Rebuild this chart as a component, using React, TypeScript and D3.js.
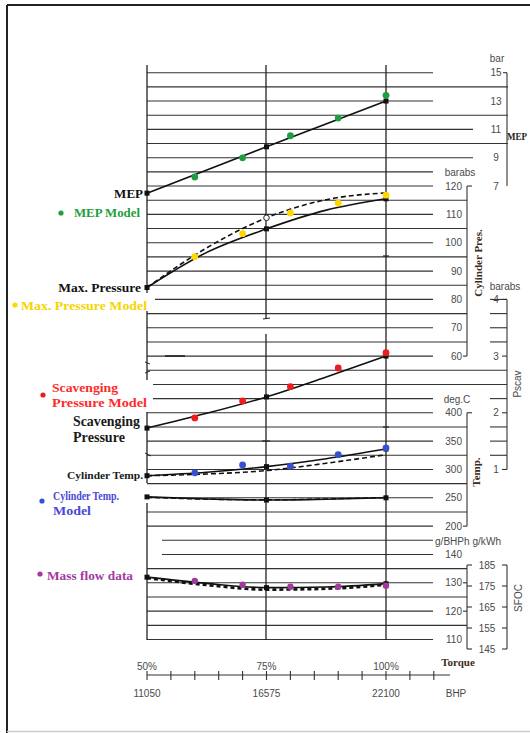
import React from "react";
import * as d3 from "d3";

// ---------- data ----------
const loadPct = [50, 62.5, 75, 87.5, 100];
const mepPct = [50, 75, 100];
const modelPct = [60, 70, 80, 90, 100];

const mepMeasured = [6.5, 9.77, 13.0];
const mepModel = [7.64, 8.99, 10.55, 11.8, 13.4];

const maxPressSolid = [84.2, 96.6, 104.9, 111.5, 115.5];
const maxPressDashed = [84.2, 98.2, 108.8, 115.2, 117.6];
const maxPressModel = [95.1, 103.2, 110.5, 114.0, 116.8];

const scavPress = [1.73, 1.99, 2.28, 2.63, 3.0];
const scavModel = [1.91, 2.21, 2.46, 2.79, 3.06];

const cylTempSolid = [289, 295, 305, 319, 336];
const cylTempDashed = [289, 292, 298, 311, 326];
const cylTempModel = [294, 308, 306, 326, 338];
const exhTempSolid = [251.6, 248, 246, 247.5, 250];
const exhTempDashed = [251, 247.5, 246.5, 248, 250.5];

const sfocSolid = [132.0, 129.8, 128.3, 128.5, 129.7];
const sfocDashed = [131.7, 129.2, 127.6, 127.9, 129.3];
const massFlowData = [130.7, 129.3, 128.6, 128.6, 129.0];

const mepTicks = [15, 13, 11, 9, 7];
const cpTicks = [120, 110, 100, 90, 80, 70, 60];
const pscTicks = [4, 3, 2, 1];
const tempTicks = [400, 350, 300, 250, 200];
const sfocTicks = [140, 130, 120, 110];
const kwhTicks = [185, 175, 165, 155, 145];
const torqueLabels = ["50%", "75%", "100%"];
const torquePct = [50, 75, 100];
const bhpLabels = ["11050", "16575", "22100"];
const bhpTickPct = [50, 55, 60, 65, 70, 75, 80, 85, 90, 95, 100, 105, 110];

// grid line extents: [x1, x2, extraRightSegment]
const gridSpec: [number, number, boolean][] = [
  [147, 433, false], [147, 508, false], [147, 433, false], [147, 508, false],
  [147, 473, false], [147, 508, false], [147, 473, false], [147, 433, false],
  [147, 433, false], [147, 467, false], [147, 433, false], [147, 467, false],
  [147, 433, false], [147, 467, false], [147, 433, false], [147, 467, false],
  [155, 433, true], [147, 467, true], [147, 433, true], [147, 467, true],
  [147, 433, false], [147, 507, false], [153, 507, false], [153, 433, true],
  [147, 433, false], [147, 467, true], [147, 433, true], [147, 467, true],
  [147, 433, false], [147, 467, false], [147, 433, false], [147, 467, false],
  [147, 433, false], [162, 433, false], [162, 433, false], [147, 467, false],
  [147, 433, false], [147, 467, false], [147, 433, false], [147, 467, false],
  [147, 433, false],
];

// ---------- scales ----------
const xS = d3.scaleLinear().domain([50, 100]).range([147, 386]);
const gridY = d3.scaleLinear().domain([0, 40]).range([72.7, 639.5]);
const mepY = d3.scaleLinear().domain([7, 15]).range([gridY(8), gridY(0)]);
const cpY = d3.scaleLinear().domain([60, 120]).range([gridY(20), gridY(8)]);
const pscY = d3.scaleLinear().domain([1, 4]).range([gridY(28), gridY(16)]);
const tY = d3.scaleLinear().domain([200, 400]).range([gridY(32), gridY(24)]);
const sfY = d3.scaleLinear().domain([110, 140]).range([gridY(40), gridY(34)]);
const kwhY = d3.scaleLinear().domain([145, 185]).range([649, 565]);

const SANS = "'Liberation Sans', Arial, sans-serif";
const SERIF = "'Liberation Serif', 'Times New Roman', serif";
const TICKC = "#4a4a4a";

function path(xs: number[], ys: number[], y: d3.ScaleLinear<number, number>) {
  const ln = d3
    .line<number>()
    .x((_, i) => xS(xs[i]))
    .y((v) => y(v))
    .curve(d3.curveMonotoneX);
  return ln(ys) || "";
}

function Dots({ xs, ys, y, color, r = 3.4 }: any) {
  return (
    <g>
      {ys.map((v: number, i: number) => (
        <circle key={i} cx={xS(xs[i])} cy={y(v)} r={r} fill={color} />
      ))}
    </g>
  );
}

function Squares({ xs, ys, y }: any) {
  return (
    <g>
      {ys.map((v: number, i: number) =>
        [50, 75, 100].includes(xs[i]) ? (
          <rect key={i} x={xS(xs[i]) - 2.5} y={y(v) - 2.5} width={5} height={5} fill="#111" />
        ) : null
      )}
    </g>
  );
}

export default function App() {
  const vSegs: [number, number, number][] = [
    [147, 65, 293], [147, 311, 380], [147, 412, 483], [147, 503, 640],
    [266, 65, 319], [266, 334, 640],
    [386, 65, 640],
  ];
  return (
    <svg
      width={530}
      height={733}
      style={{ position: "absolute", left: 0, top: 0, display: "block", background: "#fff" }}
    >
      <rect x={0} y={0} width={530} height={733} fill="#fff" />
      {/* frame */}
      <line x1={7} y1={5} x2={530} y2={5} stroke="#222" strokeWidth={2} />
      <line x1={7} y1={5} x2={7} y2={733} stroke="#222" strokeWidth={2} />
      <line x1={7} y1={731.5} x2={530} y2={731.5} stroke="#ccc" strokeWidth={1.5} />

      {/* horizontal grid */}
      {gridSpec.map(([a, b, extra], k) => (
        <g key={k}>
          <line x1={a} x2={b} y1={gridY(k)} y2={gridY(k)} stroke="#333" strokeWidth={1.1} />
          {extra && <line x1={490} x2={507} y1={gridY(k)} y2={gridY(k)} stroke="#333" strokeWidth={1.1} />}
        </g>
      ))}
      {/* vertical grid */}
      {vSegs.map(([x, a, b], i) => (
        <line key={i} x1={x} x2={x} y1={a} y2={b} stroke="#222" strokeWidth={1.3} />
      ))}
      {/* small stray marks */}
      <line x1={145} x2={150} y1={362} y2={364} stroke="#222" strokeWidth={1} />
      <line x1={145} x2={150} y1={373} y2={371} stroke="#222" strokeWidth={1} />
      <line x1={145} x2={151} y1={453} y2={456} stroke="#222" strokeWidth={1} />
      <line x1={263} x2={270} y1={319} y2={318} stroke="#222" strokeWidth={1.2} />
      <line x1={262} x2={270} y1={441} y2={441} stroke="#222" strokeWidth={1.2} />
      <line x1={383} x2={389} y1={256} y2={256} stroke="#222" strokeWidth={1.2} />
      <line x1={383} x2={389} y1={427} y2={427} stroke="#222" strokeWidth={1.2} />
      <line x1={165} x2={185} y1={356} y2={356} stroke="#222" strokeWidth={1.6} />

      {/* MEP axis */}
      <line x1={507} x2={507} y1={mepY(15)} y2={mepY(7)} stroke="#333" strokeWidth={1.1} />
      <line x1={503} x2={507} y1={mepY(15)} y2={mepY(15)} stroke="#333" strokeWidth={1.1} />
      <text x={497} y={58} fontFamily={SANS} fontSize={10} fill={TICKC} textAnchor="middle" dominantBaseline="central">bar</text>
      {mepTicks.map((t) => (
        <text key={t} x={496} y={mepY(t)} fontFamily={SANS} fontSize={10} fill={TICKC} textAnchor="middle" dominantBaseline="central">{t}</text>
      ))}
      <text x={507} y={136} fontFamily={SERIF} fontSize={10.5} fontWeight="bold" fill="#222" dominantBaseline="central" textLength={20} lengthAdjust="spacingAndGlyphs">MEP</text>

      {/* Cylinder pressure axis */}
      <line x1={467} x2={467} y1={cpY(120)} y2={cpY(60)} stroke="#333" strokeWidth={1.1} />
      <line x1={467} x2={472} y1={cpY(120)} y2={cpY(120)} stroke="#333" strokeWidth={1.1} />
      <line x1={463} x2={467} y1={cpY(60)} y2={cpY(60)} stroke="#333" strokeWidth={1.1} />
      <text x={460} y={172} fontFamily={SANS} fontSize={10} fill={TICKC} textAnchor="middle" dominantBaseline="central">barabs</text>
      {cpTicks.map((t) => (
        <text key={t} x={462} y={cpY(t)} fontFamily={SANS} fontSize={10} fill={TICKC} textAnchor="end" dominantBaseline="central">{t}</text>
      ))}
      <text transform="translate(478,263) rotate(-90)" fontFamily={SERIF} fontSize={11} fontWeight="bold" fill="#3a2c20" textAnchor="middle" dominantBaseline="central">Cylinder Pres.</text>

      {/* Pscav axis */}
      <line x1={507} x2={507} y1={pscY(4)} y2={pscY(1)} stroke="#333" strokeWidth={1.1} />
      {pscTicks.map((t) => (
        <g key={t}>
          <line x1={502} x2={507} y1={pscY(t)} y2={pscY(t)} stroke="#333" strokeWidth={1.1} />
          <text x={496} y={pscY(t)} fontFamily={SANS} fontSize={10} fill={TICKC} textAnchor="middle" dominantBaseline="central">{t}</text>
        </g>
      ))}
      <text x={505} y={286} fontFamily={SANS} fontSize={10} fill={TICKC} textAnchor="middle" dominantBaseline="central">barabs</text>
      <text transform="translate(517,384) rotate(-90)" fontFamily={SANS} fontSize={10} fill={TICKC} textAnchor="middle" dominantBaseline="central">Pscav</text>

      {/* Temp axis */}
      <line x1={467} x2={467} y1={tY(400)} y2={tY(200)} stroke="#333" strokeWidth={1.1} />
      <line x1={467} x2={472} y1={tY(400)} y2={tY(400)} stroke="#333" strokeWidth={1.1} />
      <line x1={463} x2={467} y1={tY(200)} y2={tY(200)} stroke="#333" strokeWidth={1.1} />
      <text x={457} y={399} fontFamily={SANS} fontSize={10} fill={TICKC} textAnchor="middle" dominantBaseline="central">deg.C</text>
      {tempTicks.map((t) => (
        <text key={t} x={462} y={tY(t)} fontFamily={SANS} fontSize={10} fill={TICKC} textAnchor="end" dominantBaseline="central">{t}</text>
      ))}
      <text transform="translate(476,472) rotate(-90)" fontFamily={SERIF} fontSize={11} fontWeight="bold" fill="#3a2c20" textAnchor="middle" dominantBaseline="central">Temp.</text>

      {/* SFOC axes */}
      <text x={435} y={541} fontFamily={SANS} fontSize={10} fill={TICKC} textLength={66} lengthAdjust="spacingAndGlyphs" dominantBaseline="central">g/BHPh g/kWh</text>
      {sfocTicks.map((t) => (
        <text key={t} x={462} y={sfY(t)} fontFamily={SANS} fontSize={10} fill={TICKC} textAnchor="end" dominantBaseline="central">{t}</text>
      ))}
      <line x1={467} x2={467} y1={kwhY(185)} y2={kwhY(145)} stroke="#333" strokeWidth={1.1} />
      <line x1={507} x2={507} y1={kwhY(185)} y2={kwhY(145)} stroke="#333" strokeWidth={1.1} />
      {[130, 120].map((t) => (
        <line key={t} x1={463} x2={467} y1={sfY(t)} y2={sfY(t)} stroke="#333" strokeWidth={1.1} />
      ))}
      {kwhTicks.map((t) => (
        <g key={t}>
          <line x1={467} x2={472} y1={kwhY(t)} y2={kwhY(t)} stroke="#333" strokeWidth={1.1} />
          <line x1={502} x2={507} y1={kwhY(t)} y2={kwhY(t)} stroke="#333" strokeWidth={1.1} />
          <text x={487} y={kwhY(t)} fontFamily={SANS} fontSize={10} fill={TICKC} textAnchor="middle" dominantBaseline="central">{t}</text>
        </g>
      ))}
      <text transform="translate(518,598) rotate(-90)" fontFamily={SANS} fontSize={10} fill={TICKC} textAnchor="middle" dominantBaseline="central">SFOC</text>

      {/* bottom axis */}
      <text x={458} y={662} fontFamily={SERIF} fontSize={11} fontWeight="bold" fill="#3a2c20" textAnchor="middle" dominantBaseline="central">Torque</text>
      {torquePct.map((p, i) => (
        <text key={p} x={xS(p)} y={666} fontFamily={SANS} fontSize={10} fill={TICKC} textAnchor="middle" dominantBaseline="central">{torqueLabels[i]}</text>
      ))}
      <line x1={147} x2={450} y1={675} y2={675} stroke="#333" strokeWidth={1.1} />
      {bhpTickPct.map((p) => (
        <line key={p} x1={xS(p)} x2={xS(p)} y1={671} y2={680} stroke="#333" strokeWidth={1.1} />
      ))}
      {torquePct.map((p, i) => (
        <text key={p} x={xS(p)} y={693} fontFamily={SANS} fontSize={10} fill={TICKC} textAnchor="middle" dominantBaseline="central">{bhpLabels[i]}</text>
      ))}
      <text x={456} y={693} fontFamily={SANS} fontSize={10} fill={TICKC} textAnchor="middle" dominantBaseline="central">BHP</text>

      {/* data lines */}
      <g fill="none" stroke="#111">
        <path d={path(mepPct, mepMeasured, mepY)} strokeWidth={1.6} />
        <path d={path(loadPct, maxPressSolid, cpY)} strokeWidth={1.6} />
        <path d={path(loadPct, maxPressDashed, cpY)} strokeWidth={1.6} strokeDasharray="5,3" />
        <path d={path(loadPct, scavPress, pscY)} strokeWidth={1.6} />
        <path d={path(loadPct, cylTempSolid, tY)} strokeWidth={1.6} />
        <path d={path(loadPct, cylTempDashed, tY)} strokeWidth={1.6} strokeDasharray="5,3" />
        <path d={path(loadPct, exhTempSolid, tY)} strokeWidth={1.6} />
        <path d={path(loadPct, exhTempDashed, tY)} strokeWidth={1.4} strokeDasharray="5,3" />
        <path d={path(loadPct, sfocSolid, sfY)} strokeWidth={1.6} />
        <path d={path(loadPct, sfocDashed, sfY)} strokeWidth={2.6} strokeDasharray="4,3" />
      </g>
      <Squares xs={mepPct} ys={mepMeasured} y={mepY} />
      <Squares xs={loadPct} ys={maxPressSolid} y={cpY} />
      <Squares xs={loadPct} ys={scavPress} y={pscY} />
      <Squares xs={loadPct} ys={cylTempSolid} y={tY} />
      <Squares xs={loadPct} ys={exhTempSolid} y={tY} />
      <Squares xs={loadPct} ys={sfocSolid} y={sfY} />
      <circle cx={xS(75)} cy={cpY(maxPressDashed[2])} r={2.8} fill="#fff" stroke="#222" strokeWidth={1} />

      <Dots xs={modelPct} ys={mepModel} y={mepY} color="#1e9e3e" />
      <Dots xs={modelPct} ys={maxPressModel} y={cpY} color="#ffd800" />
      <Dots xs={modelPct} ys={scavModel} y={pscY} color="#ee1c1c" />
      <Dots xs={modelPct} ys={cylTempModel} y={tY} color="#3550d0" />
      <Dots xs={modelPct} ys={massFlowData} y={sfY} color="#a23a9e" r={3.2} />

      {/* left labels */}
      <text x={143} y={193} fontFamily={SERIF} fontSize={13} fontWeight="bold" fill="#111" textAnchor="end" dominantBaseline="central">MEP</text>
      <circle cx={61} cy={213} r={2.6} fill="#1e9e3e" />
      <text x={74} y={213} fontFamily={SERIF} fontSize={12.5} fontWeight="bold" fill="#1e9e3e" dominantBaseline="central" textLength={66} lengthAdjust="spacingAndGlyphs">MEP Model</text>
      <text x={141} y={287} fontFamily={SERIF} fontSize={13.5} fontWeight="bold" fill="#111" textAnchor="end" dominantBaseline="central">Max. Pressure</text>
      <circle cx={15} cy={305} r={2.6} fill="#ffd800" />
      <text x={21} y={305} fontFamily={SERIF} fontSize={13.5} fontWeight="bold" fill="#f5d500" dominantBaseline="central" textLength={126} lengthAdjust="spacingAndGlyphs">Max. Pressure Model</text>
      <circle cx={43} cy={395} r={2.6} fill="#ee1c1c" />
      <text x={52} y={387} fontFamily={SERIF} fontSize={13.5} fontWeight="bold" fill="#ff2a2a" dominantBaseline="central" textLength={66} lengthAdjust="spacingAndGlyphs">Scavenging</text>
      <text x={52} y={402} fontFamily={SERIF} fontSize={13.5} fontWeight="bold" fill="#ff2a2a" dominantBaseline="central" textLength={95} lengthAdjust="spacingAndGlyphs">Pressure Model</text>
      <text x={73} y={421} fontFamily={SERIF} fontSize={14} fontWeight="bold" fill="#1a1a1a" dominantBaseline="central" textLength={67} lengthAdjust="spacingAndGlyphs">Scavenging</text>
      <text x={73} y={437} fontFamily={SERIF} fontSize={14} fontWeight="bold" fill="#1a1a1a" dominantBaseline="central" textLength={52} lengthAdjust="spacingAndGlyphs">Pressure</text>
      <text x={67} y={475} fontFamily={SERIF} fontSize={11} fontWeight="bold" fill="#1a1a1a" dominantBaseline="central" textLength={76} lengthAdjust="spacingAndGlyphs">Cylinder Temp.</text>
      <circle cx={42} cy={501} r={2.6} fill="#3550d0" />
      <text x={53} y={495} fontFamily={SERIF} fontSize={13} fontWeight="bold" fill="#4848d8" dominantBaseline="central" textLength={66} lengthAdjust="spacingAndGlyphs">Cylinder Temp.</text>
      <text x={53} y={510} fontFamily={SERIF} fontSize={13} fontWeight="bold" fill="#4848d8" dominantBaseline="central" textLength={38} lengthAdjust="spacingAndGlyphs">Model</text>
      <circle cx={40} cy={574} r={2.6} fill="#a23a9e" />
      <text x={47} y={575} fontFamily={SERIF} fontSize={13} fontWeight="bold" fill="#a23a9e" dominantBaseline="central" textLength={86} lengthAdjust="spacingAndGlyphs">Mass flow data</text>
    </svg>
  );
}
